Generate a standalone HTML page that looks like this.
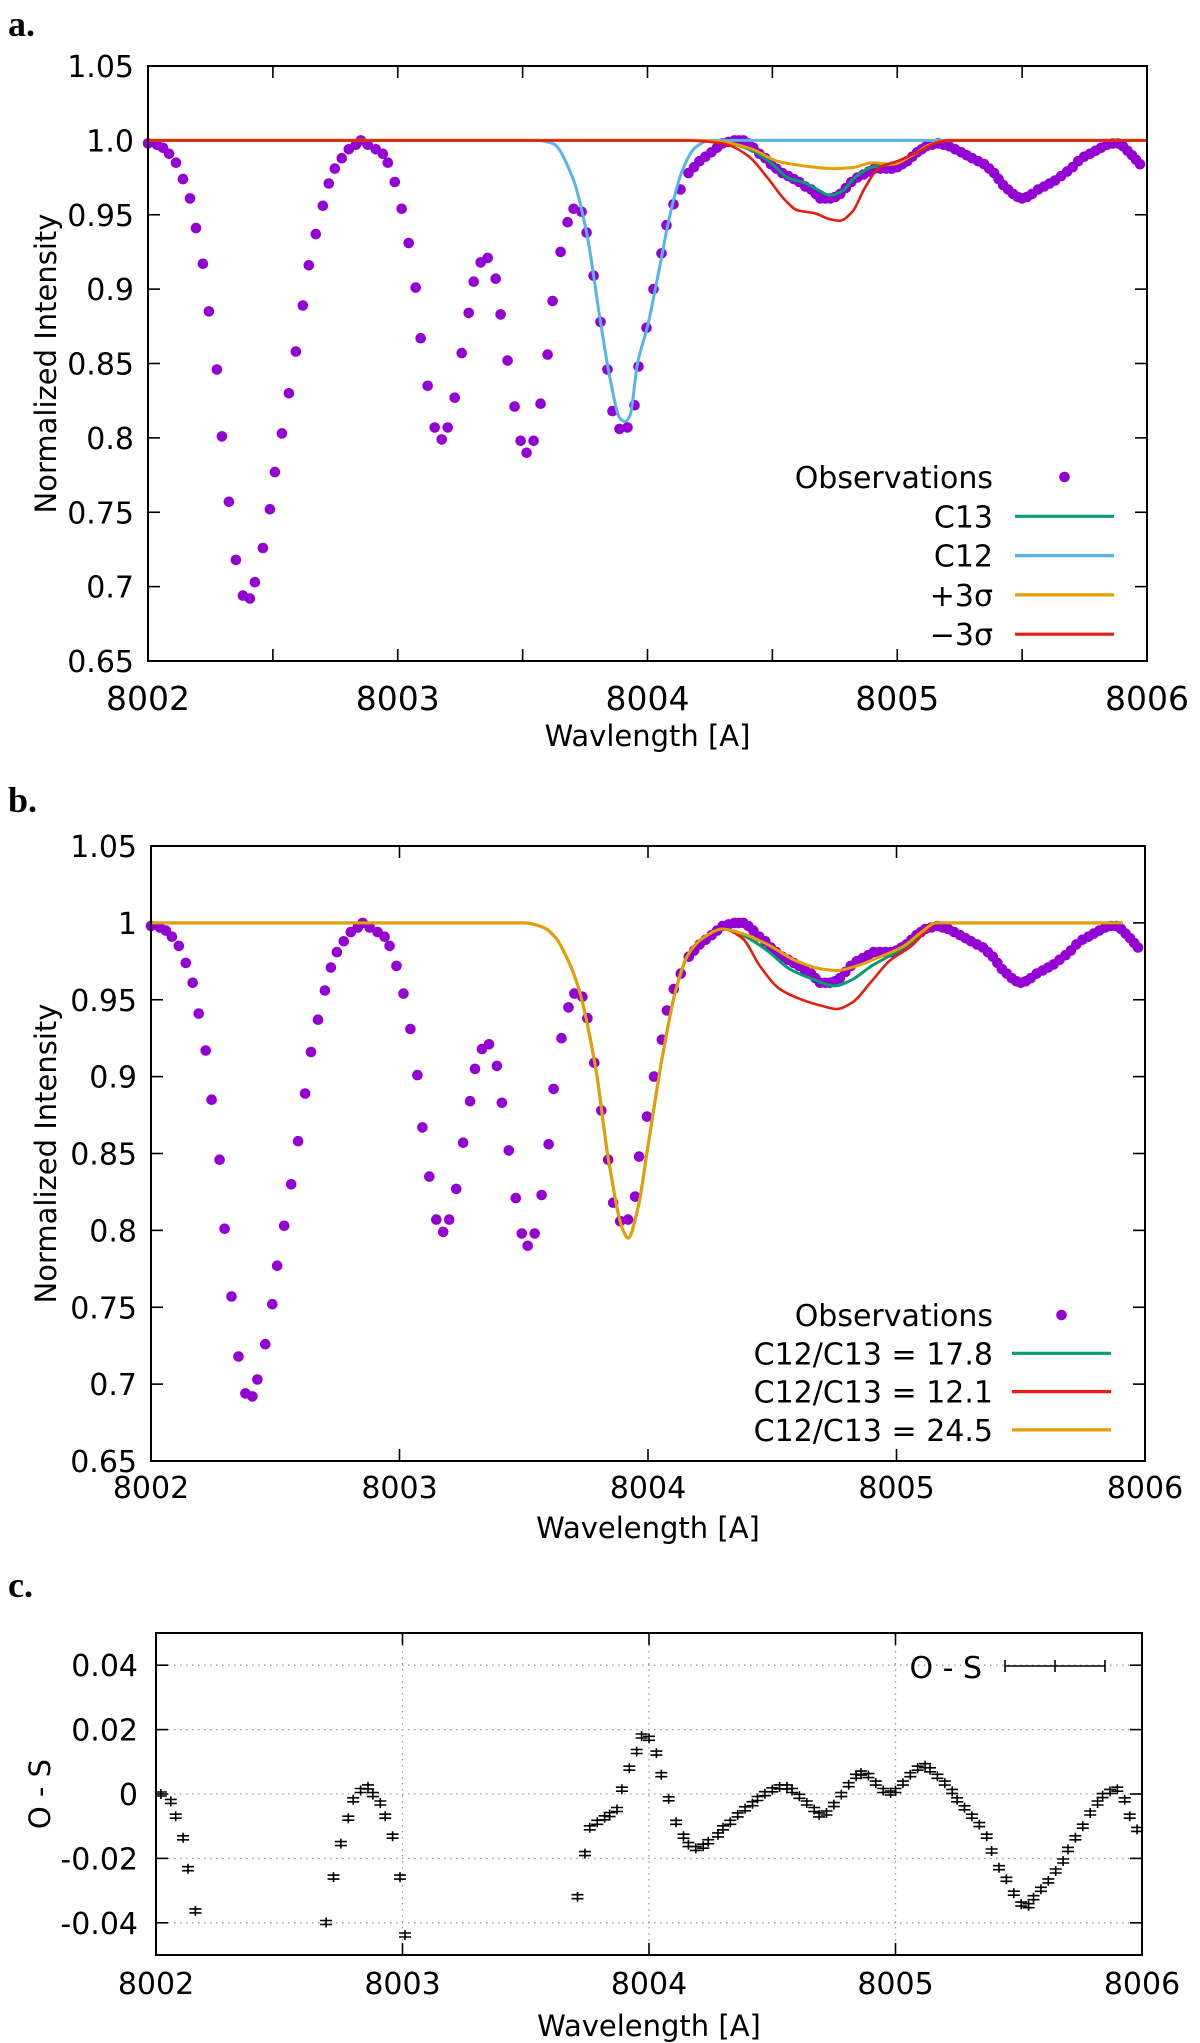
<!DOCTYPE html>
<html><head><meta charset="utf-8">
<style>
html,body{margin:0;padding:0;background:#fff;}
svg{display:block;}
text{font-family:"DejaVu Sans","Liberation Sans",sans-serif;fill:#000;}
.lbl{font-family:"Liberation Serif",serif;font-weight:bold;font-size:36px;}
</style></head>
<body>
<svg id="fig" width="1200" height="2043" viewBox="0 0 1200 2043" xmlns="http://www.w3.org/2000/svg">
<text class="lbl" x="8" y="36">a.</text>
<text class="lbl" x="8" y="812">b.</text>
<text class="lbl" x="8" y="1597">c.</text>
</svg>
<script>
// ---------- data ----------
const obsWave = [8002.000,8002.036,8002.060,8002.084,8002.112,8002.140,8002.168,8002.192,8002.220,8002.244,8002.276,8002.296,8002.324,8002.352,8002.380,8002.408,8002.428,8002.460,8002.488,8002.508,8002.536,8002.564,8002.592,8002.620,8002.644,8002.672,8002.700,8002.724,8002.748,8002.776,8002.804,8002.832,8002.852,8002.880,8002.912,8002.940,8002.960,8002.988,8003.016,8003.044,8003.072,8003.092,8003.120,8003.148,8003.176,8003.200,8003.228,8003.256,8003.284,8003.304,8003.332,8003.360,8003.392,8003.412,8003.440,8003.468,8003.492,8003.516,8003.544,8003.572,8003.600,8003.620,8003.652,8003.680,8003.704,8003.736,8003.756,8003.784,8003.812,8003.840,8003.860,8003.888,8003.920,8003.948,8003.964,8003.996,8004.024,8004.056,8004.076,8004.104,8004.132,8004.164,8004.186,8004.208,8004.232,8004.256,8004.278,8004.300,8004.324,8004.348,8004.366,8004.384,8004.404,8004.424,8004.448,8004.472,8004.494,8004.516,8004.540,8004.564,8004.586,8004.608,8004.632,8004.656,8004.674,8004.692,8004.712,8004.732,8004.752,8004.772,8004.794,8004.816,8004.840,8004.864,8004.886,8004.908,8004.932,8004.956,8004.978,8005.000,8005.020,8005.040,8005.060,8005.080,8005.098,8005.116,8005.140,8005.164,8005.186,8005.208,8005.232,8005.256,8005.278,8005.300,8005.324,8005.348,8005.368,8005.388,8005.406,8005.424,8005.444,8005.464,8005.482,8005.500,8005.520,8005.540,8005.564,8005.588,8005.610,8005.632,8005.656,8005.680,8005.702,8005.724,8005.748,8005.772,8005.794,8005.816,8005.840,8005.864,8005.884,8005.904,8005.922,8005.940,8005.956,8005.972];
const obsFlux = [0.998,0.997,0.995,0.991,0.985,0.974,0.961,0.941,0.917,0.885,0.846,0.801,0.757,0.718,0.694,0.692,0.703,0.726,0.752,0.777,0.803,0.830,0.858,0.889,0.916,0.937,0.956,0.971,0.981,0.988,0.994,0.997,1.000,0.997,0.994,0.991,0.985,0.972,0.954,0.931,0.901,0.867,0.835,0.807,0.799,0.807,0.827,0.857,0.884,0.905,0.918,0.921,0.907,0.883,0.852,0.821,0.798,0.790,0.798,0.823,0.856,0.892,0.925,0.945,0.954,0.952,0.938,0.909,0.878,0.846,0.818,0.806,0.807,0.822,0.848,0.874,0.900,0.924,0.943,0.957,0.967,0.978,0.982,0.986,0.989,0.992,0.995,0.998,0.999,1.000,1.000,1.000,0.998,0.995,0.991,0.988,0.984,0.981,0.978,0.976,0.974,0.972,0.969,0.967,0.964,0.961,0.961,0.961,0.962,0.964,0.968,0.972,0.975,0.977,0.979,0.981,0.981,0.981,0.981,0.982,0.984,0.986,0.989,0.992,0.994,0.996,0.997,0.998,0.997,0.996,0.994,0.992,0.990,0.988,0.986,0.984,0.981,0.978,0.974,0.970,0.967,0.964,0.962,0.961,0.962,0.964,0.967,0.969,0.971,0.973,0.976,0.979,0.982,0.986,0.989,0.991,0.993,0.995,0.997,0.998,0.998,0.996,0.993,0.990,0.987,0.984];

// panel a model knots
const aC12W = [8002,8003.55,8003.62,8003.70,8003.756,8003.81,8003.85,8003.89,8003.91,8003.93,8003.96,8004.00,8004.05,8004.09,8004.14,8004.19,8004.25,8006];
const aC12F = [1,1,0.998,0.975,0.938,0.88,0.84,0.813,0.811,0.815,0.85,0.875,0.916,0.95,0.98,0.995,1,1];
const aC13W = [8002,8004.2,8004.3,8004.42,8004.5,8004.56,8004.62,8004.68,8004.73,8004.78,8004.83,8004.9,8004.98,8005.06,8005.13,8005.2,8006];
const aC13F = [1,1,0.999,0.993,0.984,0.975,0.972,0.967,0.963,0.966,0.975,0.982,0.984,0.99,0.997,1,1];
const aP3W = [8002,8004.2,8004.3,8004.42,8004.52,8004.62,8004.75,8004.83,8004.9,8004.98,8005.06,8005.13,8005.2,8006];
const aP3F = [1,1,0.999,0.994,0.986,0.983,0.981,0.982,0.985,0.984,0.99,0.997,1,1];
const aM3W = [8002,8004.15,8004.3,8004.4,8004.48,8004.55,8004.6,8004.67,8004.73,8004.77,8004.82,8004.87,8004.93,8005.0,8005.08,8005.15,8005.2,8006];
const aM3F = [1,1,0.998,0.99,0.975,0.96,0.953,0.951,0.947,0.946,0.952,0.968,0.982,0.986,0.992,0.998,1,1];

// panel b model knots
const bCoreW = [8002,8003.5,8003.58,8003.63,8003.68,8003.72,8003.79,8003.84,8003.9,8003.92,8003.96,8004.0,8004.06,8004.11,8004.16,8004.22,8004.3];
const bCoreF = [1,1,0.997,0.99,0.975,0.958,0.905,0.847,0.8,0.795,0.815,0.855,0.915,0.955,0.979,0.99,0.996];
const bGreenW = [8004.38,8004.48,8004.57,8004.67,8004.75,8004.82,8004.9,8005.03,8005.1,8005.16,8005.91];
const bGreenF = [0.992,0.982,0.970,0.963,0.959,0.963,0.972,0.984,0.993,1,1];
const bRedW = [8004.38,8004.45,8004.53,8004.62,8004.7,8004.76,8004.82,8004.9,8004.97,8005.06,8005.12,8005.16,8005.91];
const bRedF = [0.99,0.972,0.957,0.95,0.946,0.944,0.948,0.962,0.975,0.985,0.995,1,1];
const bOrW = [8004.38,8004.48,8004.6,8004.7,8004.76,8004.84,8004.92,8005.03,8005.1,8005.16,8005.91];
const bOrF = [0.993,0.986,0.975,0.97,0.969,0.972,0.977,0.985,0.994,1,1];

// panel c residuals
const osWave = [8002.02,8002.06,8002.08,8002.11,8002.13,8002.16,8002.69,8002.72,8002.75,8002.78,8002.80,8002.83,8002.86,8002.88,8002.91,8002.93,8002.96,8002.99,8003.01,8003.71,8003.74,8003.76,8003.79,8003.82,8003.84,8003.87,8003.89,8003.92,8003.95,8003.97,8004.00,8004.03,8004.05,8004.08,8004.11,8004.14,8004.16,8004.19,8004.22,8004.24,8004.28,8004.30,8004.33,8004.36,8004.39,8004.42,8004.44,8004.47,8004.50,8004.53,8004.56,8004.58,8004.61,8004.64,8004.67,8004.69,8004.72,8004.75,8004.78,8004.81,8004.84,8004.86,8004.89,8004.92,8004.95,8004.98,8005.00,8005.03,8005.06,8005.09,8005.12,8005.14,8005.17,8005.20,8005.23,8005.25,8005.28,8005.31,8005.34,8005.37,8005.39,8005.42,8005.45,8005.48,8005.51,8005.54,8005.56,8005.59,8005.62,8005.65,8005.68,8005.70,8005.73,8005.76,8005.79,8005.82,8005.84,8005.87,8005.90,8005.93,8005.95,8005.98];
const osVal = [0.0000,-0.0023,-0.0069,-0.0136,-0.0232,-0.0363,-0.0399,-0.0258,-0.0154,-0.0075,-0.0018,0.0011,0.0022,-0.0002,-0.0028,-0.0069,-0.0131,-0.0258,-0.0438,-0.0319,-0.0185,-0.0105,-0.0088,-0.0074,-0.0064,-0.0048,0.0015,0.0080,0.0132,0.0180,0.0173,0.0127,0.0060,-0.0015,-0.0088,-0.0131,-0.0157,-0.0169,-0.0162,-0.0148,-0.0127,-0.0105,-0.0088,-0.0065,-0.0046,-0.0030,-0.0014,0.0001,0.0013,0.0022,0.0022,0.0011,-0.0007,-0.0028,-0.0048,-0.0065,-0.0059,-0.0033,-0.0002,0.0029,0.0055,0.0065,0.0057,0.0034,0.0011,0.0003,0.0011,0.0034,0.0060,0.0080,0.0088,0.0075,0.0055,0.0034,0.0008,-0.0018,-0.0043,-0.0069,-0.0095,-0.0131,-0.0177,-0.0229,-0.0265,-0.0308,-0.0342,-0.0347,-0.0322,-0.0296,-0.0270,-0.0239,-0.0208,-0.0172,-0.0136,-0.0100,-0.0059,-0.0028,-0.0005,0.0008,0.0015,-0.0018,-0.0069,-0.0110];

const xTicks = [8002,8003,8004,8005,8006];
const aYTicks = ['0.65','0.7','0.75','0.8','0.85','0.9','0.95','1.0','1.05'];
const bYTicks = ['0.65','0.7','0.75','0.8','0.85','0.9','0.95','1','1.05'];
const cYTicks = ['-0.04','-0.02','0','0.02','0.04'];

// ---------- drawing ----------
const NS='http://www.w3.org/2000/svg';
const svg=document.getElementById('fig');
function mk(tag,attrs,parent){const e=document.createElementNS(NS,tag);for(const k in attrs)e.setAttribute(k,attrs[k]);(parent||svg).appendChild(e);return e;}
function linScale(d0,d1,r0,r1){return v=>r0+(v-d0)*(r1-r0)/(d1-d0);}
function smoothPath(xs,ys,sx,sy){
  const p=xs.map((x,i)=>[sx(x),sy(ys[i])]);
  const n=p.length, d=[], m=[];
  for(let i=0;i<n-1;i++){d.push((p[i+1][1]-p[i][1])/(p[i+1][0]-p[i][0]));}
  for(let i=0;i<n;i++){
    if(i===0)m.push(d[0]);else if(i===n-1)m.push(d[n-2]);
    else if(d[i-1]*d[i]<=0)m.push(0);
    else{const h0=p[i][0]-p[i-1][0],h1=p[i+1][0]-p[i][0];
      const w1=2*h1+h0,w2=h1+2*h0;m.push((w1+w2)/(w1/d[i-1]+w2/d[i]));}
  }
  let s='M'+p[0][0].toFixed(1)+','+p[0][1].toFixed(1);
  for(let i=0;i<n-1;i++){
    const h=(p[i+1][0]-p[i][0])/3;
    s+=' C'+(p[i][0]+h).toFixed(1)+','+(p[i][1]+m[i]*h).toFixed(1)+' '+(p[i+1][0]-h).toFixed(1)+','+(p[i+1][1]-m[i+1]*h).toFixed(1)+' '+p[i+1][0].toFixed(1)+','+p[i+1][1].toFixed(1);
  }
  return s;
}

function frame(g,L,R,T,B,name){
  const r=mk('rect',{x:L,y:T,width:R-L,height:B-T,fill:'none',stroke:'#000','stroke-width':2},g);
  
  
}

function spectrumPanel(cfg){
  const g=mk('g',{});
  
  
  const sx=linScale(8002,8006,cfg.L,cfg.R), sy=linScale(0.65,1.05,cfg.B,cfg.T);
  const tg=mk('g',{stroke:'#000','stroke-width':1.6},g);
  cfg.yt.forEach(t=>{const y=sy(parseFloat(t));
    mk('line',{x1:cfg.L,x2:cfg.L+12,y1:y,y2:y},tg);mk('line',{x1:cfg.R,x2:cfg.R-12,y1:y,y2:y},tg);
    const tx=mk('text',{x:cfg.L-14,y:y+11,'text-anchor':'end','font-size':30},g);tx.textContent=t;
    
    
  });
  const xt=[];for(let v=8002;v<=8006.001;v+=cfg.xstep)xt.push(v);
  xt.forEach(v=>{const x=sx(v);
    mk('line',{x1:x,x2:x,y1:cfg.B,y2:cfg.B-12},tg);mk('line',{x1:x,x2:x,y1:cfg.T,y2:cfg.T+12},tg);});
  xTicks.forEach(v=>{const tx=mk('text',{x:sx(v),y:cfg.xly,'text-anchor':'middle','font-size':cfg.xfs},g);tx.textContent=String(v);
    
    });
  const og=mk('g',{fill:'#9400d3'},g);
  
  
  obsWave.forEach((w,i)=>{const c=mk('circle',{cx:sx(w).toFixed(1),cy:sy(obsFlux[i]).toFixed(1),r:5.3},og);
    
    });
  cfg.lines.forEach(l=>{const p=mk('path',{d:smoothPath(l.w,l.f,sx,sy),fill:'none',stroke:l.c,'stroke-width':l.sw||3,'stroke-linejoin':'round'},g);
    
    });
  frame(g,cfg.L,cfg.R,cfg.T,cfg.B,'plot-frame');
  const yt=mk('text',{x:0,y:0,'text-anchor':'middle','font-size':29,transform:`translate(56,${(cfg.T+cfg.B)/2}) rotate(-90)`},g);
  yt.textContent='Normalized Intensity';
  
  
  const xtt=mk('text',{x:(cfg.L+cfg.R)/2,y:cfg.xty,'text-anchor':'middle','font-size':29},g);
  xtt.textContent=cfg.xtitle;
  
  
  cfg.legend.forEach((e,i)=>{
    const y=cfg.legY+i*cfg.legDy;
    const t=mk('text',{x:cfg.legTx,y:y+11,'text-anchor':'end','font-size':30},g);t.textContent=e.t;
    
    
    if(e.dot){const c=mk('circle',{cx:(cfg.legL1+cfg.legL2)/2,cy:y,r:5.3,fill:'#9400d3'},g);
      
      }
    else{const ln=mk('line',{x1:cfg.legL1,x2:cfg.legL2,y1:y,y2:y,stroke:e.c,'stroke-width':3.2},g);
      
      }
  });
}

spectrumPanel({name:'panel-a-chart',L:148,R:1147,T:66,B:661,xstep:0.5,yt:aYTicks,xly:710,xfs:33,xty:746,xtitle:'Wavlength [A]',
  lines:[
    {name:'c12-line',w:aC12W,f:aC12F,c:'#56b4e9',sw:3},
    {name:'c13-line',w:aC13W,f:aC13F,c:'#009e73',sw:3},
    {name:'plus-3-sigma-line',w:aP3W,f:aP3F,c:'#e69f00',sw:3},
    {name:'minus-3-sigma-line',w:aM3W,f:aM3F,c:'#e51e10',sw:2.6}],
  legY:477,legDy:39.3,legTx:993,legL1:1015,legL2:1114,
  legend:[{t:'Observations',dot:true},{t:'C13',c:'#009e73'},{t:'C12',c:'#56b4e9'},{t:'+3σ',c:'#e69f00'},{t:'\u22123σ',c:'#e51e10'}]});

spectrumPanel({name:'panel-b-chart',L:151,R:1145,T:846,B:1461,xstep:1,yt:bYTicks,xly:1498,xfs:30,xty:1538,xtitle:'Wavelength [A]',
  lines:[
    {name:'ratio-17-8-line',w:bCoreW.concat(bGreenW),f:bCoreF.concat(bGreenF),c:'#009e73',sw:3},
    {name:'ratio-12-1-line',w:bCoreW.concat(bRedW),f:bCoreF.concat(bRedF),c:'#e51e10',sw:2.6},
    {name:'ratio-24-5-line',w:bCoreW.concat(bOrW),f:bCoreF.concat(bOrF),c:'#e69f00',sw:3}],
  legY:1315,legDy:38.3,legTx:993,legL1:1012,legL2:1111,
  legend:[{t:'Observations',dot:true},{t:'C12/C13 = 17.8',c:'#009e73'},{t:'C12/C13 = 12.1',c:'#e51e10'},{t:'C12/C13 = 24.5',c:'#e69f00'}]});

(function(){
  const L=156,R=1142,T=1633,B=1955;
  const g=mk('g',{});
  
  
  const sx=linScale(8002,8006,L,R), sy=linScale(-0.05,0.05,B,T);
  const gg=mk('g',{stroke:'#999','stroke-width':1.3,'stroke-dasharray':'1.5 4.5'},g);
  cYTicks.forEach(t=>{const y=sy(parseFloat(t));mk('line',{x1:L,x2:R,y1:y,y2:y},gg);});
  [8003,8004,8005].forEach(v=>{mk('line',{x1:sx(v),x2:sx(v),y1:T,y2:B},gg);});
  const tg=mk('g',{stroke:'#000','stroke-width':1.6},g);
  cYTicks.forEach(t=>{const y=sy(parseFloat(t));
    mk('line',{x1:L,x2:L+12,y1:y,y2:y},tg);mk('line',{x1:R,x2:R-12,y1:y,y2:y},tg);
    const tx=mk('text',{x:L-18,y:y+11,'text-anchor':'end','font-size':30},g);tx.textContent=t;
    
    });
  xTicks.forEach(v=>{const x=sx(v);
    mk('line',{x1:x,x2:x,y1:B,y2:B-12},tg);mk('line',{x1:x,x2:x,y1:T,y2:T+12},tg);
    const tx=mk('text',{x:x,y:1994,'text-anchor':'middle','font-size':30},g);tx.textContent=String(v);
    
    });
  const mg=mk('g',{stroke:'#000','stroke-width':1.6},g);
  
  
  osWave.forEach((w,i)=>{const x=sx(w),y=sy(osVal[i]);
    const p=mk('path',{d:`M${(x).toFixed(1)},${(y-5).toFixed(1)}V${(y+5).toFixed(1)}M${(x-6).toFixed(1)},${(y-2).toFixed(1)}H${(x+6).toFixed(1)}M${(x-6).toFixed(1)},${(y+2).toFixed(1)}H${(x+6).toFixed(1)}`,fill:'none'},mg);
    
    });
  frame(g,L,R,T,B,'plot-frame');
  const yt=mk('text',{x:0,y:0,'text-anchor':'middle','font-size':29,transform:`translate(50,${(T+B)/2}) rotate(-90)`},g);
  yt.textContent='O - S';
  
  
  const xt=mk('text',{x:(L+R)/2,y:2036,'text-anchor':'middle','font-size':29},g);
  xt.textContent='Wavelength [A]';
  
  
  const lt=mk('text',{x:982,y:1678,'text-anchor':'end','font-size':30},g);lt.textContent='O - S';
  
  
  const ls=mk('path',{d:'M1005,1666H1105M1005,1660V1672M1105,1660V1672M1055,1660V1672',stroke:'#000','stroke-width':1.6,fill:'none'},g);
  
  
})();
</script>
</body></html>
